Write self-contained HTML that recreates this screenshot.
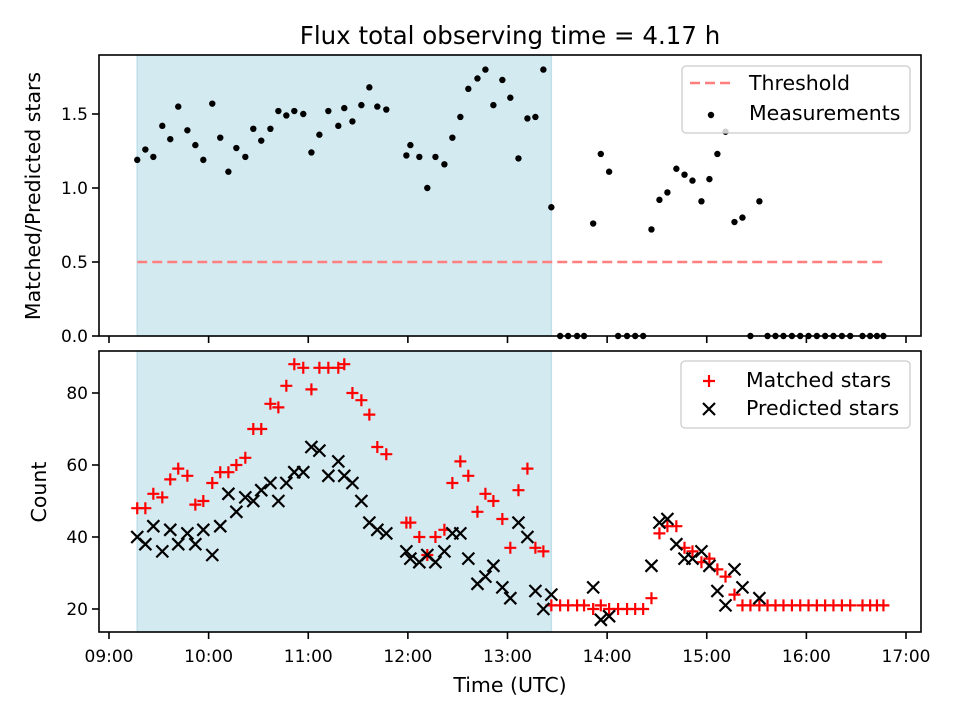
<!DOCTYPE html>
<html><head><meta charset="utf-8"><style>
html,body{margin:0;padding:0;background:#fff}
svg text{font-family:"DejaVu Sans","Liberation Sans",sans-serif;fill:#000}
</style></head><body>
<svg id="fig" width="960" height="720" viewBox="0 0 960 720" xmlns="http://www.w3.org/2000/svg">
<rect width="960" height="720" fill="#fff"/>
<text x="510" y="44" font-size="24.5" text-anchor="middle">Flux total observing time = 4.17 h</text>
<g id="top"></g>
<g id="bot"></g>
<text x="510" y="692" font-size="20.5" text-anchor="middle">Time (UTC)</text>
<text transform="translate(40,196) rotate(-90)" font-size="20.5" text-anchor="middle">Matched/Predicted stars</text>
<text transform="translate(46,492) rotate(-90)" font-size="20.5" text-anchor="middle">Count</text>
</svg>
<script>
// minutes after 09:00 UTC
const times = [17.0,21.9,26.7,32.1,36.9,41.7,47.2,52.0,56.8,62.2,67.0,71.9,76.7,82.1,86.9,91.7,97.2,102.0,106.8,111.6,117.0,121.9,126.7,132.1,138.1,141.7,146.6,152.0,156.8,161.6,167.0,179.1,181.5,186.9,191.7,196.6,202.0,206.8,211.6,216.4,221.9,226.7,231.5,236.9,241.7,246.6,252.0,256.8,261.6,266.4,271.7,276.5,281.9,286.1,291.6,296.2,301.2,306.6,312.0,316.9,321.7,326.7,331.5,336.3,341.7,346.6,351.4,356.8,361.6,366.4,371.3,376.7,381.5,386.3,391.7,396.6,401.4,406.2,411.3,416.3,421.3,426.3,431.3,436.3,441.4,446.4,453.8,458.4,462.5,466.4];
const ratio = [1.19,1.26,1.21,1.42,1.33,1.55,1.39,1.29,1.19,1.57,1.34,1.11,1.27,1.21,1.40,1.32,1.40,1.52,1.49,1.52,1.50,1.24,1.36,1.52,1.42,1.54,1.45,1.56,1.68,1.55,1.53,1.22,1.29,1.21,1.00,1.21,1.16,1.34,1.48,1.67,1.74,1.80,1.56,1.73,1.61,1.20,1.47,1.48,1.80,0.87,0,0,0,0,0.76,1.23,1.11,0,0,0,0,0.72,0.92,0.97,1.13,1.09,1.05,0.91,1.06,1.23,1.38,0.77,0.80,0,0.91,0,0,0,0,0,0,0,0,0,0,0,0,0,0,0];
const matched = [48,48,52,51,56,59,57,49,50,55,58,58,60,62,70,70,77,76,82,88,87,81,87,87,87,88,80,78,74,65,63,44,44,40,35,40,42,55,61,57,47,52,50,45,37,53,59,37,36,21,21,21,21,21,20,21,20,20,20,20,20,23,41,43,43,37,36,33,34,31,29,24,21,21,21,21,21,21,21,21,21,21,21,21,21,21,21,21,21,21];
const predicted = [40,38,43,36,42,38,41,38,42,35,43,52,47,51,50,53,55,50,55,58,58,65,64,57,61,57,55,50,44,42,41,36,34,33,35,33,36,41,41,34,27,29,32,26,23,44,40,25,20,24,null,null,null,null,26,17,18,null,null,null,null,32,44,45,38,34,34,36,32,25,21,31,26,null,23,null,null,null,null,null,null,null,null,null,null,null,null,null,null,null];
const threshold = [0.5];
const thresholdRange = [17.0, 466.4];
const spanRange = [17.0, 266.4];
const xTickLabels = ["09:00","10:00","11:00","12:00","13:00","14:00","15:00","16:00","17:00"];
const topTicks = [0.0,0.5,1.0,1.5];
const botTicks = [20,40,60,80];

const NS="http://www.w3.org/2000/svg";
const L=99,R=921;
const xs = m => 109 + m*(797/480);
const yTop = v => 336 - v*148;
const yBot = v => 609 - (v-20)*3.6;
function el(tag,attrs,parent){const e=document.createElementNS(NS,tag);for(const k in attrs)e.setAttribute(k,attrs[k]);parent.appendChild(e);return e;}

function panel(g,T,B,yf,ticks,fmt,showX){
  const s=el('rect',{x:xs(spanRange[0]),y:T,width:xs(spanRange[1])-xs(spanRange[0]),height:B-T,fill:'#d4eaf1',stroke:'#bfe0ea','stroke-width':1.5},g);
  
  
  ticks.forEach(v=>{
    const y=yf(v);
    const t=el('line',{x1:L-7,x2:L,y1:y,y2:y,stroke:'#000','stroke-width':1.6},g);
    
    
    const tx=el('text',{x:L-11,y:y+6,'font-size':17,'text-anchor':'end'},g);
    tx.textContent=fmt(v);
    
    
  });
  xTickLabels.forEach((lab,i)=>{
    const x=xs(i*60);
    const t=el('line',{x1:x,x2:x,y1:B,y2:B+7,stroke:'#000','stroke-width':1.6},g);
    
    
    if(showX){
      const tx=el('text',{x:x,y:B+30,'font-size':17,'text-anchor':'middle'},g);
      tx.textContent=lab;
      
      
    }
  });
}
function frame(g,T,B){
  const f=el('rect',{x:L,y:T,width:R-L,height:B-T,fill:'none',stroke:'#000','stroke-width':1.6},g);
  
  
}

// TOP
const gt=document.getElementById('top');
panel(gt,55,336,yTop,topTicks,v=>v.toFixed(1),false);
const th=el('line',{x1:xs(thresholdRange[0]),x2:xs(thresholdRange[1]),y1:yTop(threshold[0]),y2:yTop(threshold[0]),stroke:'#ff7f7f','stroke-width':2.6,'stroke-dasharray':'10,5'},gt);


times.forEach((m,i)=>{
  const c=el('circle',{cx:xs(m),cy:yTop(ratio[i]),r:3.2,fill:'#000'},gt);
  
  
});
frame(gt,55,336);
// top legend
const lg=el('g',{},gt);


el('rect',{x:682,y:66,width:228,height:67,rx:4,fill:'#fff','fill-opacity':0.8,stroke:'#ccc','stroke-width':1.3},lg);
el('line',{x1:690,x2:732,y1:83,y2:83,stroke:'#ff7f7f','stroke-width':2.6,'stroke-dasharray':'10,5'},lg);
let t1=el('text',{x:749,y:90,'font-size':20.5},lg);t1.textContent='Threshold';


el('circle',{cx:711,cy:115,r:3.2,fill:'#000'},lg);
let t2=el('text',{x:749,y:120,'font-size':20.5},lg);t2.textContent='Measurements';



// BOTTOM
const gb=document.getElementById('bot');
panel(gb,351,632,yBot,botTicks,v=>String(v),true);
function plus(g,x,y,col){el('path',{d:`M${x-6},${y}H${x+6}M${x},${y-6}V${y+6}`,stroke:col,'stroke-width':2.2,fill:'none'},g);}
function cross(g,x,y,col){el('path',{d:`M${x-6},${y-6}L${x+6},${y+6}M${x-6},${y+6}L${x+6},${y-6}`,stroke:col,'stroke-width':2.2,fill:'none'},g);}
times.forEach((m,i)=>{
  const g=el('g',{},gb);
  
  
  plus(g,xs(m),yBot(matched[i]),'#ff0000');
});
times.forEach((m,i)=>{
  if(predicted[i]==null) return;
  const g=el('g',{},gb);
  
  
  cross(g,xs(m),yBot(predicted[i]),'#000');
});
frame(gb,351,632);
const lb=el('g',{},gb);


el('rect',{x:681,y:361,width:229,height:67,rx:4,fill:'#fff','fill-opacity':0.8,stroke:'#ccc','stroke-width':1.3},lb);
plus(lb,709,381,'#ff0000');
let t3=el('text',{x:746,y:387,'font-size':20.5},lb);t3.textContent='Matched stars';


cross(lb,709,409,'#000');
let t4=el('text',{x:746,y:415,'font-size':20.5},lb);t4.textContent='Predicted stars';


</script>
</body></html>
